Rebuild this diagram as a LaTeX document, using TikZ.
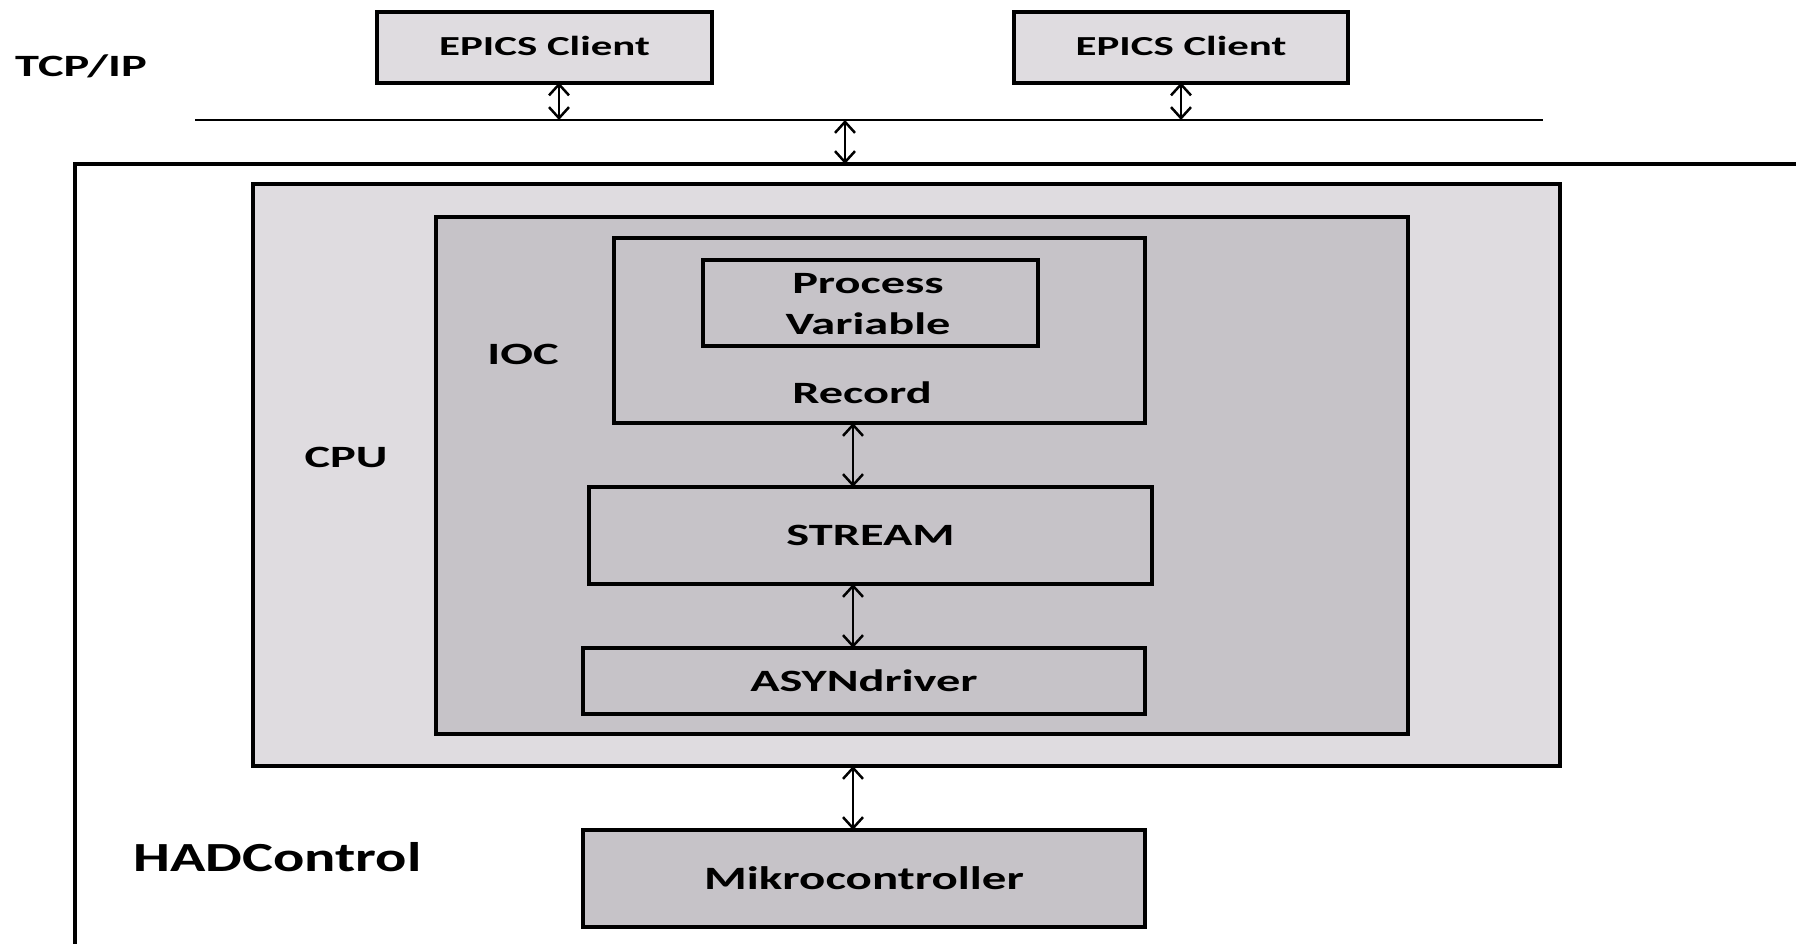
\documentclass[tikz,border=0pt]{standalone}
\usepackage{fontspec}
\setmainfont[FakeStretch=1.56]{Carlito}
\newfontfamily\mikfont[FakeStretch=1.5]{Carlito}
\newfontfamily\hadfont[FakeStretch=1.41]{Carlito}
\usetikzlibrary{arrows.meta}
\definecolor{lightG}{HTML}{DFDCE0}
\definecolor{darkG}{HTML}{C6C3C8}
\begin{document}
\begin{tikzpicture}[x=1pt,y=-1pt,
  box/.style={draw=black, line width=4pt, inner sep=0pt, outer sep=0pt, anchor=north west},
  lt/.style={fill=lightG}, dk/.style={fill=darkG},
  fA/.style={font=\bfseries\fontsize{27.5}{33}\selectfont, text height=17.7pt, text depth=0pt},
  fB/.style={font=\bfseries\fontsize{31}{41}\selectfont, text height=20pt, text depth=0pt},
  fC/.style={font=\mikfont\bfseries\fontsize{32.6}{39}\selectfont, text height=21pt, text depth=0pt},
  fD/.style={font=\hadfont\bfseries\fontsize{41.4}{50}\selectfont, text height=26.7pt, text depth=0pt},
  lbl/.style={inner sep=0pt, outer sep=0pt},
  arr/.style={{Straight Barb[length=11pt,width=20pt]}-{Straight Barb[length=11pt,width=20pt]}, line width=2.5pt}]
\useasboundingbox[fill=white] (0,0) rectangle (1796,943);

% TCP/IP level
\node[lbl,fB] (tcp) at (81,66) {TCP/IP};
\node[box,lt,fA,minimum width=335pt,minimum height=71pt] (c1) at (377,11.5) {EPICS Client};
\node[box,lt,fA,minimum width=334pt,minimum height=71pt] (c2) at (1014,11.5) {EPICS Client};
\coordinate (busL) at (195,120);
\coordinate (busR) at (1543,120);
\draw[line width=2.5pt] (busL) -- (busR);

% HADControl outer frame
\coordinate (hadTL) at (74.5,164);
\coordinate (hadTR) at (1800,164);
\coordinate (hadBL) at (74.5,947);
\draw[line width=4pt] (hadTR) -- (hadTL) -- (hadBL);
\node[lbl,fD] (had) at (277.5,858) {HADControl};

% CPU and IOC
\node[box,lt,minimum width=1307pt,minimum height=582pt] (cpu) at (253,184) {};
\node[lbl,fB] (cpul) at (346,457) {CPU};
\node[box,dk,minimum width=972pt,minimum height=517.5pt] (ioc) at (436,216.5) {};
\node[lbl,fB] (iocl) at (523,354.5) {IOC};

% Record / PV
\node[box,dk,minimum width=531pt,minimum height=185pt] (rec) at (614,238) {};
\node[lbl,fB] (recl) at (862,393) {Record};
\node[box,dk,minimum width=335pt,minimum height=86pt] (pv) at (703,260) {};
\node[lbl,fB,align=center,text height=,text depth=] (pvl) at (868,304) {Process\\Variable};

% STREAM / ASYN / Mikro
\node[box,dk,fB,minimum width=563pt,minimum height=97pt] (stream) at (589,487) {STREAM};
\node[box,dk,fB,minimum width=562pt,minimum height=66pt] (asyn) at (583,648) {ASYNdriver};
\node[box,dk,fC,minimum width=562pt,minimum height=97pt] (mikro) at (583,830) {Mikrocontroller};

% arrows
\coordinate (col) at (853,0);
\coordinate (tap) at (845,120);
\draw[arr] ([xshift=14.5pt]c1.south) -- ([xshift=14.5pt]c1.south |- busL);
\draw[arr] (c2.south) -- (c2.south |- busL);
\draw[arr] (tap) -- (tap |- hadTL);
\draw[arr] (rec.south -| col) -- (stream.north -| col);
\draw[arr] (stream.south -| col) -- (asyn.north -| col);
\draw[arr] (cpu.south -| col) -- (mikro.north -| col);
\end{tikzpicture}
\end{document}
